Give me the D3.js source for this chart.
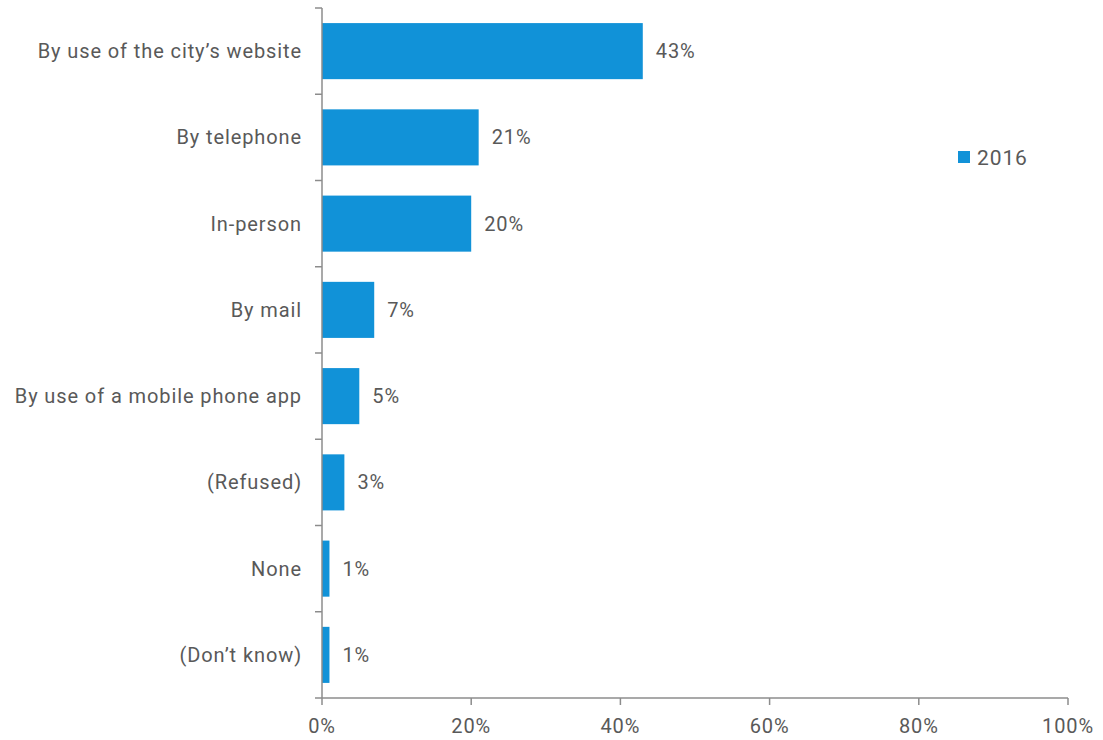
<!DOCTYPE html>
<html><head><meta charset="utf-8">
<script src="https://cdn.jsdelivr.net/npm/d3@7"></script>
<style>body{margin:0;background:#fff}text{font-family:Roboto,"Liberation Sans",sans-serif;fill:#595959;letter-spacing:0.9px}</style>
</head><body><svg id="c" width="1103" height="740"></svg>
<script>
const categories = ["By use of the city\u2019s website","By telephone","In-person","By mail","By use of a mobile phone app","(Refused)","None","(Don\u2019t know)"];
const values2016 = [43,21,20,7,5,3,1,1];
const xTicks = [0,20,40,60,80,100];
const seriesName = "2016";

const svg = d3.select("#c");
const m = {l:322, r:1068, t:8, b:698};
const x = d3.scaleLinear().domain([0,100]).range([m.l, m.r]);
const y = d3.scaleBand().domain(categories).range([m.t, m.b]).paddingInner(0.35).paddingOuter(0.175);
const color = "#1192D8";
const axisColor = "#8c8c8c";
const fs = 20;

// bars
svg.selectAll("rect.bar").data(values2016).join("rect")
  .attr("x", x(0)).attr("y", (d,i)=>y(categories[i]))
  .attr("width", d=>x(d)-x(0)).attr("height", y.bandwidth()).attr("fill", color);

// value labels
svg.selectAll("text.val").data(values2016).join("text")
  .attr("x", d=>x(d)+13).attr("y", (d,i)=>y(categories[i])+y.bandwidth()/2)
  .attr("dy","0.35em").attr("font-size",fs).text(d=>d+"%");

// y axis
const yAxis = svg.append("g");
yAxis.append("line").attr("x1",m.l).attr("x2",m.l).attr("y1",m.t).attr("y2",m.b).attr("stroke",axisColor).attr("stroke-width",1.5);
const step = (m.b-m.t)/categories.length;
d3.range(categories.length+1).forEach(i=>{
  yAxis.append("line").attr("x1",m.l-7).attr("x2",m.l).attr("y1",m.t+i*step).attr("y2",m.t+i*step).attr("stroke",axisColor).attr("stroke-width",1.5);
});
svg.selectAll("text.cat").data(categories).join("text")
  .attr("x", m.l-20).attr("y", d=>y(d)+y.bandwidth()/2).attr("dy","0.35em")
  .attr("text-anchor","end").attr("font-size",fs).text(d=>d);

// x axis
const xAxis = svg.append("g");
xAxis.append("line").attr("x1",m.l).attr("x2",m.r).attr("y1",m.b).attr("y2",m.b).attr("stroke",axisColor).attr("stroke-width",1.5);
xTicks.forEach(t=>{
  xAxis.append("line").attr("x1",x(t)).attr("x2",x(t)).attr("y1",m.b).attr("y2",m.b+7).attr("stroke",axisColor).attr("stroke-width",1.5);
  xAxis.append("text").attr("x",x(t)).attr("y",733).attr("text-anchor","middle").attr("font-size",fs).text(t+"%");
});

// legend
svg.append("rect").attr("x",958).attr("y",151).attr("width",12).attr("height",12).attr("fill",color);
svg.append("text").attr("x",977).attr("y",165).attr("font-size",21).text(seriesName);
</script></body></html>
